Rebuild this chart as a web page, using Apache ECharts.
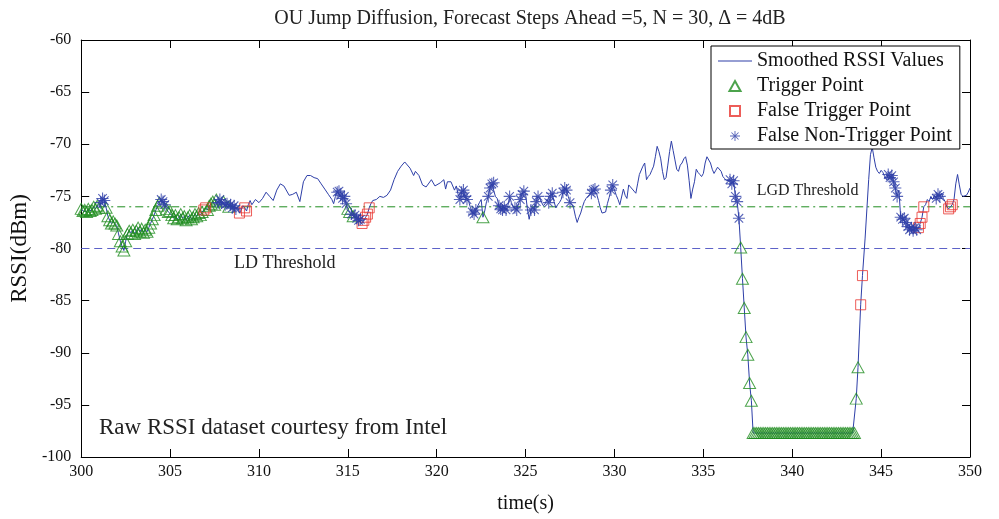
<!DOCTYPE html>
<html><head><meta charset="utf-8">
<script src="https://cdn.jsdelivr.net/npm/echarts@6/dist/echarts.min.js"></script>
<style>html,body{margin:0;padding:0;background:#fff}#c{width:999px;height:519px}</style>
</head><body><div id="c"></div>
<script>
// ---- data ----
const xTicks = [300, 305, 310, 315, 320, 325, 330, 335, 340, 345, 350];
const yTicks = [-100, -95, -90, -85, -80, -75, -70, -65, -60];
const ldThreshold = -80;
const lgdThreshold = -76;

// smoothed RSSI trace [time (s), RSSI (dBm)]
const smoothedRSSI = [
[300.0,-76.2],[300.1,-76.4],[300.2,-76.3],[300.3,-76.5],[300.4,-76.2],[300.5,-76.4],[300.6,-76.3],[300.7,-76.0],[300.8,-76.2],[300.9,-75.9],
[301.0,-76.1],[301.1,-75.6],[301.2,-75.2],[301.3,-75.4],[301.4,-76.1],[301.5,-76.9],[301.6,-77.3],[301.7,-77.6],[301.8,-77.4],[301.9,-77.6],
[302.0,-77.8],[302.1,-78.6],[302.2,-79.3],[302.3,-79.8],[302.4,-80.2],[302.5,-79.3],[302.6,-78.6],[302.7,-78.3],[302.8,-78.5],[302.9,-78.2],
[303.0,-78.6],[303.1,-78.3],[303.2,-78.0],[303.3,-78.4],[303.4,-78.1],[303.5,-78.5],[303.6,-78.2],[303.7,-78.4],[303.8,-78.0],[303.9,-77.6],
[304.0,-77.2],[304.1,-76.8],[304.2,-76.3],[304.3,-75.9],[304.4,-75.6],[304.5,-75.3],[304.6,-75.5],[304.7,-75.8],[304.8,-76.2],[304.9,-76.5],
[305.0,-76.4],[305.1,-76.8],[305.2,-77.1],[305.3,-76.8],[305.4,-77.2],[305.5,-77.0],[305.6,-76.7],[305.7,-77.1],[305.8,-76.9],[305.9,-77.3],
[306.0,-77.0],[306.1,-76.8],[306.2,-77.2],[306.3,-77.0],[306.4,-76.7],[306.5,-76.9],[306.6,-76.6],[306.7,-76.8],[306.8,-76.5],[306.9,-76.3],
[307.0,-76.1],[307.1,-76.3],[307.2,-75.9],[307.3,-75.7],[307.4,-75.5],[307.5,-75.8],[307.6,-75.3],[307.7,-75.6],[307.8,-75.3],[307.9,-75.6],
[308.0,-75.5],[308.1,-75.8],[308.2,-75.7],[308.3,-76.0],[308.4,-75.8],[308.5,-76.1],[308.6,-75.9],[308.7,-76.2],[308.8,-76.0],[308.9,-76.6],
[309.0,-76.3],[309.1,-75.9],[309.2,-76.1],[309.3,-76.4],[309.4,-75.8],[309.5,-75.4],[309.6,-75.8],[309.8,-75.3],
[310.0,-75.6],[310.2,-75.2],[310.4,-74.6],[310.6,-75.0],[310.8,-75.4],[311.0,-74.4],[311.2,-73.8],[311.4,-74.0],[311.5,-74.3],[311.7,-74.9],[311.9,-74.8],
[312.1,-74.6],[312.3,-75.5],[312.5,-73.6],[312.7,-73.0],[312.9,-73.0],[313.1,-73.2],[313.3,-73.3],[313.5,-73.8],[313.7,-74.3],[313.9,-74.8],
[314.1,-75.3],[314.2,-75.7],[314.3,-75.0],[314.4,-74.6],[314.5,-74.5],[314.6,-74.9],[314.7,-75.2],[314.8,-75.0],[314.9,-75.7],
[315.0,-76.2],[315.1,-76.5],[315.2,-76.7],[315.3,-76.9],[315.4,-76.8],[315.5,-77.1],[315.6,-77.3],[315.7,-77.2],[315.8,-77.6],[315.9,-77.3],
[316.0,-77.0],[316.1,-76.7],[316.2,-76.1],[316.3,-75.7],[316.4,-75.4],[316.6,-75.3],[316.8,-75.0],
[317.0,-75.1],[317.2,-74.9],[317.4,-74.4],[317.6,-73.4],[317.8,-72.6],[318.0,-72.1],[318.2,-71.7],[318.3,-71.8],[318.5,-72.3],[318.7,-73.0],[318.8,-72.6],[318.9,-72.5],
[319.0,-73.0],[319.2,-73.9],[319.4,-74.1],[319.5,-74.2],[319.7,-73.4],[319.9,-74.0],
[320.0,-73.9],[320.2,-73.7],[320.4,-73.4],[320.5,-74.3],[320.6,-73.6],[320.8,-73.6],
[321.0,-74.4],[321.1,-74.0],[321.2,-74.8],[321.3,-75.3],[321.4,-74.6],[321.5,-74.4],[321.6,-75.0],[321.7,-75.3],[321.8,-75.5],[321.9,-76.1],
[322.0,-76.5],[322.1,-76.7],[322.2,-76.3],[322.3,-76.2],[322.4,-75.6],[322.5,-75.3],[322.6,-77.0],[322.7,-76.4],[322.8,-75.5],[322.9,-75.0],
[323.0,-74.2],[323.1,-73.8],[323.2,-73.7],[323.3,-75.0],[323.4,-75.2],[323.5,-75.9],[323.6,-76.2],[323.7,-76.3],[323.8,-76.0],[323.9,-76.3],
[324.0,-75.9],[324.1,-75.0],[324.2,-75.6],[324.3,-76.0],[324.4,-76.1],[324.5,-76.3],[324.6,-75.7],[324.7,-75.3],[324.8,-74.8],[324.9,-74.5],
[325.0,-74.8],[325.1,-76.2],[325.2,-77.2],[325.3,-76.3],[325.4,-76.0],[325.5,-76.3],[325.6,-75.5],[325.7,-75.0],[325.8,-75.2],[325.9,-75.6],
[326.0,-75.9],[326.1,-75.7],[326.2,-75.3],[326.3,-75.6],[326.4,-75.0],[326.5,-74.7],[326.6,-75.5],[326.7,-76.1],[326.8,-75.8],[326.9,-75.6],
[327.0,-75.3],[327.1,-74.6],[327.2,-74.2],[327.3,-74.4],[327.4,-75.0],[327.5,-75.6],[327.6,-75.8],[327.7,-76.1],[327.8,-76.9],[327.9,-77.5],
[328.0,-77.0],[328.1,-76.6],[328.2,-76.0],[328.3,-75.5],[328.4,-75.2],[328.5,-75.0],[328.6,-75.1],[328.7,-74.7],[328.8,-74.4],[328.9,-74.3],
[329.0,-74.8],[329.1,-75.4],[329.2,-76.1],[329.3,-76.6],[329.4,-76.5],[329.5,-76.5],[329.6,-75.7],[329.7,-75.1],[329.8,-74.4],[329.9,-73.9],
[330.0,-74.4],[330.1,-74.9],[330.2,-75.3],[330.3,-75.8],[330.4,-75.9],[330.5,-74.3],[330.6,-74.9],[330.7,-75.2],[330.8,-73.9],[330.9,-74.1],
[331.0,-74.3],[331.1,-74.5],[331.2,-74.7],[331.3,-73.8],[331.4,-72.9],[331.5,-72.8],[331.6,-72.1],[331.7,-71.8],[331.8,-73.4],[331.9,-73.1],
[332.0,-72.9],[332.1,-72.5],[332.2,-72.1],[332.3,-71.2],[332.4,-70.2],[332.5,-70.7],[332.6,-71.4],[332.7,-72.6],[332.8,-73.4],[332.9,-73.2],
[333.0,-72.0],[333.1,-70.7],[333.2,-69.7],[333.3,-70.6],[333.4,-71.5],[333.5,-72.4],[333.6,-72.6],[333.7,-72.0],[333.8,-71.8],[333.9,-71.4],
[334.0,-71.2],[334.1,-72.0],[334.2,-73.5],[334.3,-75.2],[334.4,-74.3],[334.5,-73.6],[334.6,-72.4],[334.7,-72.7],[334.8,-72.9],[334.9,-73.1],
[335.0,-72.8],[335.1,-71.8],[335.2,-71.2],[335.3,-71.2],[335.4,-71.8],[335.5,-72.4],[335.6,-72.8],[335.7,-72.5],[335.8,-72.2],[335.9,-72.1],
[336.0,-72.6],[336.1,-73.1],[336.2,-73.3],[336.3,-73.5],[336.4,-73.6],[336.5,-73.4],[336.6,-73.8],[336.7,-73.5],[336.8,-75.0],[336.9,-75.5],
[337.0,-77.1],[337.1,-79.9],[337.2,-82.9],[337.3,-85.7],[337.4,-88.5],[337.5,-90.2],[337.6,-92.9],[337.7,-94.6],[337.8,-97.7],[337.9,-97.7],
[338.0,-97.7],[338.1,-97.7],[338.2,-97.7],[338.3,-97.7],[338.4,-97.7],[338.5,-97.7],[338.6,-97.7],[338.7,-97.7],[338.8,-97.7],[338.9,-97.7],
[339.0,-97.7],[339.1,-97.7],[339.2,-97.7],[339.3,-97.7],[339.4,-97.7],[339.5,-97.7],[339.6,-97.7],[339.7,-97.7],[339.8,-97.7],[339.9,-97.7],
[340.0,-97.7],[340.1,-97.7],[340.2,-97.7],[340.3,-97.7],[340.4,-97.7],[340.5,-97.7],[340.6,-97.7],[340.7,-97.7],[340.8,-97.7],[340.9,-97.7],
[341.0,-97.7],[341.1,-97.7],[341.2,-97.7],[341.3,-97.7],[341.4,-97.7],[341.5,-97.7],[341.6,-97.7],[341.7,-97.7],[341.8,-97.7],[341.9,-97.7],
[342.0,-97.7],[342.1,-97.7],[342.2,-97.7],[342.3,-97.7],[342.4,-97.7],[342.5,-97.7],[342.6,-97.7],[342.7,-97.7],[342.8,-97.7],[342.9,-97.7],
[343.0,-97.7],[343.1,-97.7],[343.2,-97.7],[343.3,-97.7],[343.4,-97.7],[343.5,-97.7],[343.6,-94.4],[343.7,-91.4],[343.85,-85.4],[343.95,-82.6],
[344.1,-79.0],[344.2,-76.2],[344.3,-73.4],[344.4,-71.0],[344.5,-70.3],[344.6,-71.3],[344.7,-72.2],[344.8,-72.6],[344.9,-72.8],
[345.0,-72.5],[345.1,-72.7],[345.2,-73.1],[345.3,-73.4],[345.4,-72.9],[345.5,-73.2],[345.6,-73.0],[345.7,-73.6],[345.8,-74.2],[345.9,-75.0],
[346.0,-74.4],[346.1,-77.0],[346.2,-77.2],[346.3,-77.1],[346.4,-77.5],[346.5,-77.9],[346.6,-78.2],[346.7,-78.0],[346.8,-78.3],[346.9,-78.0],
[347.0,-78.2],[347.1,-78.0],[347.2,-77.6],[347.3,-77.0],[347.4,-76.0],[347.5,-75.8],[347.6,-75.3],[347.7,-75.5],[347.8,-75.0],[347.9,-75.3],
[348.0,-74.9],[348.1,-75.2],[348.2,-74.8],[348.3,-75.0],[348.4,-74.7],[348.5,-75.2],[348.6,-75.5],[348.7,-76.0],[348.8,-76.2],[348.9,-76.0],
[349.0,-75.8],[349.1,-75.3],[349.2,-73.8],[349.3,-72.9],[349.4,-73.9],[349.5,-74.8],[349.6,-75.0],[349.7,-75.0],[349.8,-74.9],[349.9,-74.6],
[350.0,-74.2]
];

// marker times (values taken from the trace at those times)
const triggerTimes = [
300.0,300.1,300.2,300.3,300.4,300.5,300.6,300.7,300.8,300.9,301.0,
301.4,301.5,301.6,301.7,301.8,301.9,302.0,302.1,302.2,302.3,302.4,302.5,302.6,302.7,302.8,302.9,
303.0,303.1,303.2,303.3,303.4,303.5,303.6,303.7,303.8,303.9,304.0,304.1,304.2,304.3,304.4,
304.8,304.9,305.0,305.1,305.2,305.3,305.4,305.5,305.6,305.7,305.8,305.9,306.0,306.1,306.2,306.3,306.4,306.5,306.6,306.7,306.8,
307.1,307.2,307.3,307.4,307.5,307.6,308.0,308.3,
315.0,315.1,315.3,322.6,
337.1,337.2,337.3,337.4,337.5,337.6,337.7,337.8,337.9,
338.0,338.1,338.2,338.3,338.4,338.5,338.6,338.7,338.8,338.9,
339.0,339.1,339.2,339.3,339.4,339.5,339.6,339.7,339.8,339.9,
340.0,340.1,340.2,340.3,340.4,340.5,340.6,340.7,340.8,340.9,
341.0,341.1,341.2,341.3,341.4,341.5,341.6,341.7,341.8,341.9,
342.0,342.1,342.2,342.3,342.4,342.5,342.6,342.7,342.8,342.9,
343.0,343.1,343.2,343.3,343.4,343.5,343.6,343.7
];
const falseTriggerTimes = [306.9,307.0,308.9,309.2,309.3,315.8,315.9,316.0,316.1,316.2,343.85,343.95,347.1,347.2,347.3,347.4,348.8,348.9,349.0];
const falseNonTriggerTimes = [
301.1,301.2,301.3,304.5,304.6,304.7,307.7,307.8,307.9,308.1,308.2,308.4,308.5,308.6,308.7,
314.4,314.5,314.6,314.7,314.8,314.9,315.2,315.4,315.5,315.6,315.7,
321.3,321.4,321.5,321.6,321.7,322.0,322.1,322.2,322.9,323.0,323.1,323.2,323.5,323.6,323.7,323.8,323.9,
324.1,324.4,324.5,324.7,324.8,324.9,325.3,325.5,325.6,325.7,326.3,326.4,326.5,327.1,327.2,327.3,327.5,
328.7,328.8,328.9,329.8,329.9,336.5,336.6,336.7,336.8,336.9,337.0,
345.4,345.5,345.6,345.7,345.8,345.9,346.1,346.2,346.3,346.4,346.5,346.6,346.7,346.8,346.9,347.0,348.1,348.2,348.3
];

// ---- chart ----
const FONT = 'Liberation Serif';
const BLUE = '#2e3fa8', GREEN = '#1f8c1f', RED = '#e8352f', LDBLUE = '#5d62c8';
const lookup = new Map(smoothedRSSI.map(p => [p[0].toFixed(2), p[1]]));
const pts = ts => ts.filter(t => lookup.has(t.toFixed(2))).map(t => [t, lookup.get(t.toFixed(2))]);
const STAR = 'path://M4.55,0H5.45V10H4.55Z M0,4.55H10V5.45H0Z M1.77,1.13L8.87,8.23L8.23,8.87L1.13,1.77Z M8.23,1.13L8.87,1.77L1.77,8.87L1.13,8.23Z';
const X0 = xTicks[0], X1 = xTicks[xTicks.length - 1];

const chart = echarts.init(document.getElementById('c'), null, {renderer: 'canvas'});
const axBase = (min, max, itv) => ({
  type: 'value', min, max, interval: itv,
  axisLine: {show: true, onZero: false, lineStyle: {color: '#000', width: 1}},
  axisTick: {show: true, inside: true, length: 8, lineStyle: {color: '#000'}},
  splitLine: {show: false}
});
chart.setOption({
  animation: false,
  backgroundColor: '#fff',
  title: {
    text: 'OU Jump Diffusion, Forecast Steps Ahead =5, N = 30, \u0394 = 4dB',
    left: 525, top: 4, textAlign: 'center',
    textStyle: {fontFamily: FONT, fontSize: 20, fontWeight: 'normal', color: '#222'}
  },
  grid: {left: 80, right: 29, top: 40, bottom: 56, containLabel: false},
  legend: {
    orient: 'vertical', left: 711, top: 46,
    padding: [5, 8, 3, 7], itemGap: 5, itemWidth: 34, itemHeight: 10,
    backgroundColor: '#fff', borderColor: '#000', borderWidth: 1, borderRadius: 0,
    textStyle: {fontFamily: FONT, fontSize: 20, color: '#111', lineHeight: 20},
    data: [
      {name: 'Smoothed RSSI Values', icon: 'path://M0,0H34V1H0Z'},
      {name: 'Trigger Point', icon: 'path://M5,0L10,9L0,9Z'},
      {name: 'False Trigger Point', icon: 'path://M0,0H9V9H0Z'},
      {name: 'False Non-Trigger Point', icon: STAR}
    ]
  },
  xAxis: [
    Object.assign(axBase(X0, X1, xTicks[1] - xTicks[0]), {
      position: 'bottom',
      axisLabel: {color: '#111', fontFamily: FONT, fontSize: 16, margin: 7},
      name: 'time(s)', nameLocation: 'middle', nameGap: 37,
      nameTextStyle: {fontFamily: FONT, fontSize: 20, color: '#111'}
    }),
    Object.assign(axBase(X0, X1, xTicks[1] - xTicks[0]), {
      position: 'top', axisLabel: {show: false}
    })
  ],
  yAxis: [
    Object.assign(axBase(yTicks[0], yTicks[yTicks.length - 1], yTicks[1] - yTicks[0]), {
      position: 'left',
      axisLabel: {color: '#111', fontFamily: FONT, fontSize: 16, margin: 10},
      name: 'RSSI(dBm)', nameLocation: 'middle', nameGap: 44,
      nameTextStyle: {fontFamily: FONT, fontSize: 23, color: '#111'}
    }),
    Object.assign(axBase(yTicks[0], yTicks[yTicks.length - 1], yTicks[1] - yTicks[0]), {
      position: 'right', axisLabel: {show: false}
    })
  ],
  series: [
    {
      name: 'LGD Threshold', type: 'line', data: [[X0, lgdThreshold], [X1, lgdThreshold]],
      showSymbol: false, symbol: 'none', silent: true, z: 2,
      lineStyle: {color: GREEN, width: 1, type: [8, 4, 2, 4]}
    },
    {
      name: 'LD Threshold', type: 'line', data: [[X0, ldThreshold], [X1, ldThreshold]],
      showSymbol: false, symbol: 'none', silent: true, z: 2,
      lineStyle: {color: LDBLUE, width: 1, type: [8, 5]}
    },
    {
      name: 'Smoothed RSSI Values', type: 'line', data: smoothedRSSI,
      showSymbol: false, symbol: 'none', color: BLUE,
      lineStyle: {color: BLUE, width: 1}, itemStyle: {color: BLUE}, z: 3
    },
    {
      name: 'Trigger Point', type: 'scatter', data: pts(triggerTimes),
      symbol: 'triangle', symbolSize: [12, 11], z: 4,
      itemStyle: {color: 'rgba(0,0,0,0)', borderColor: GREEN, borderWidth: 1}
    },
    {
      name: 'False Trigger Point', type: 'scatter', data: pts(falseTriggerTimes),
      symbol: 'rect', symbolSize: 10, z: 5,
      itemStyle: {color: 'rgba(0,0,0,0)', borderColor: RED, borderWidth: 1}
    },
    {
      name: 'False Non-Trigger Point', type: 'scatter', data: pts(falseNonTriggerTimes),
      symbol: STAR, symbolSize: 12, z: 6,
      itemStyle: {color: BLUE}
    }
  ]
});

// text annotations anchored in data coordinates
const notes = [
  {text: 'LGD Threshold', at: [338.0, -74.5], size: 16},
  {text: 'LD Threshold', at: [308.6, -81.4], size: 18},
  {text: 'Raw RSSI dataset courtesy from Intel', at: [301.0, -97.2], size: 23}
];
chart.setOption({
  graphic: notes.map(n => {
    const p = chart.convertToPixel({xAxisIndex: 0, yAxisIndex: 0}, n.at);
    return {type: 'text', x: p[0], y: p[1], z: 10,
      style: {text: n.text, fontFamily: FONT, fontSize: n.size, fill: '#222', align: 'left', verticalAlign: 'middle'}};
  })
});
</script></body></html>
